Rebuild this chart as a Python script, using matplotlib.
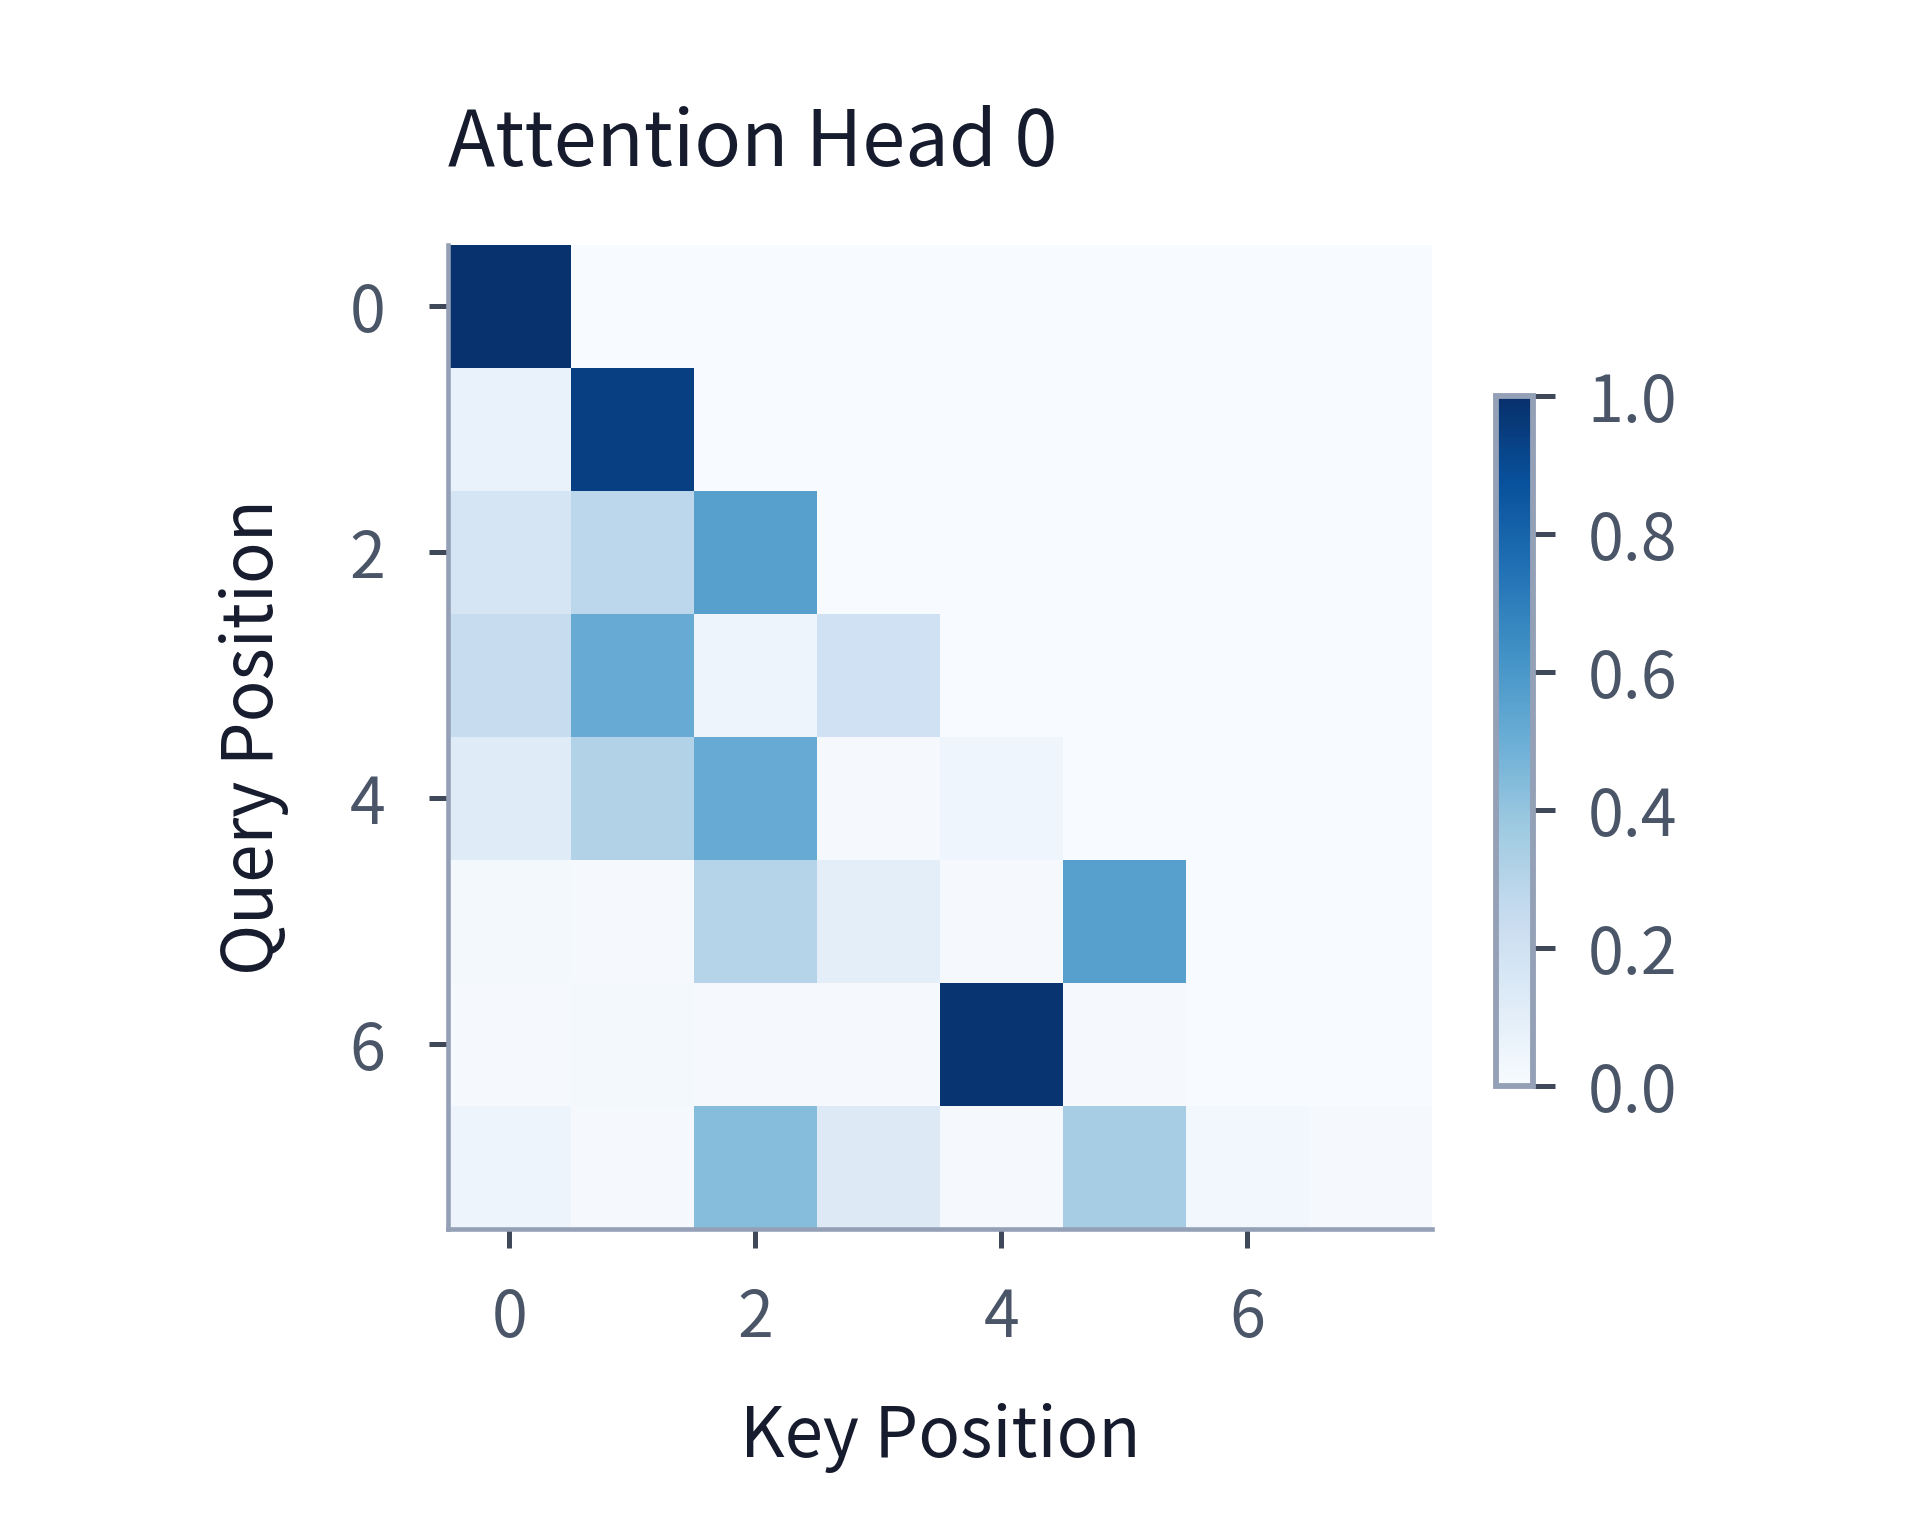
"""Attention map heatmap for a single head."""

import matplotlib
matplotlib.use("Agg")
import matplotlib.pyplot as plt
import numpy as np

plt.rcParams["font.family"] = ["Noto Sans CJK KR", "DejaVu Sans"]

TITLE = "Attention Head 0"
XLABEL = "Key Position"
YLABEL = "Query Position"

# attention weights, rows = query position, cols = key position
row0 = [0.99, 0.00, 0.00, 0.00, 0.00, 0.00, 0.00, 0.00]
row1 = [0.07, 0.94, 0.00, 0.00, 0.00, 0.00, 0.00, 0.00]
row2 = [0.17, 0.28, 0.56, 0.00, 0.00, 0.00, 0.00, 0.00]
row3 = [0.24, 0.51, 0.05, 0.20, 0.00, 0.00, 0.00, 0.00]
row4 = [0.12, 0.31, 0.51, 0.01, 0.04, 0.00, 0.00, 0.00]
row5 = [0.02, 0.01, 0.30, 0.10, 0.01, 0.56, 0.00, 0.00]
row6 = [0.01, 0.02, 0.01, 0.01, 0.98, 0.01, 0.00, 0.00]
row7 = [0.05, 0.01, 0.43, 0.13, 0.01, 0.35, 0.03, 0.01]

SPINE = "#94a0b6"
TICK = "#3e4859"
TICKLABEL = "#4a5568"
TEXT = "#161c2d"


def main():
    weights = np.array([row0, row1, row2, row3, row4, row5, row6, row7])

    fig = plt.figure(figsize=(6.4, 5.12), dpi=300)
    ax = fig.add_axes([0.2333, 0.1999, 0.5125, 0.6406])
    im = ax.imshow(weights, cmap="Blues", vmin=0, vmax=1, aspect="equal",
                   interpolation="nearest")

    for side in ("top", "right"):
        ax.spines[side].set_visible(False)
    for side in ("left", "bottom"):
        ax.spines[side].set_color(SPINE)
        ax.spines[side].set_linewidth(1.1)

    ax.set_xticks([0, 2, 4, 6])
    ax.set_yticks([0, 2, 4, 6])
    ax.tick_params(axis="both", length=4.5, width=1.2, color=TICK,
                   labelcolor=TICKLABEL, labelsize=15.5, pad=9)
    ax.tick_params(axis="y", pad=10.5)

    ax.set_title(TITLE, loc="left", fontsize=18.6, color=TEXT, pad=19)
    ax.set_xlabel(XLABEL, fontsize=16.6, color=TEXT, labelpad=12)
    ax.set_ylabel(YLABEL, fontsize=16.6, color=TEXT, labelpad=14.5)

    cax = fig.add_axes([0.779, 0.293, 0.0193, 0.449])
    cbar = fig.colorbar(im, cax=cax)
    cbar.set_ticks([0.0, 0.2, 0.4, 0.6, 0.8, 1.0])
    cbar.outline.set_edgecolor(SPINE)
    cbar.outline.set_linewidth(1.4)
    cax.tick_params(length=5.2, width=1.2, color=TICK,
                    labelcolor=TICKLABEL, labelsize=15.5, pad=8)

    fig.savefig("out.png", dpi=300)
    plt.close(fig)


if __name__ == "__main__":
    main()
